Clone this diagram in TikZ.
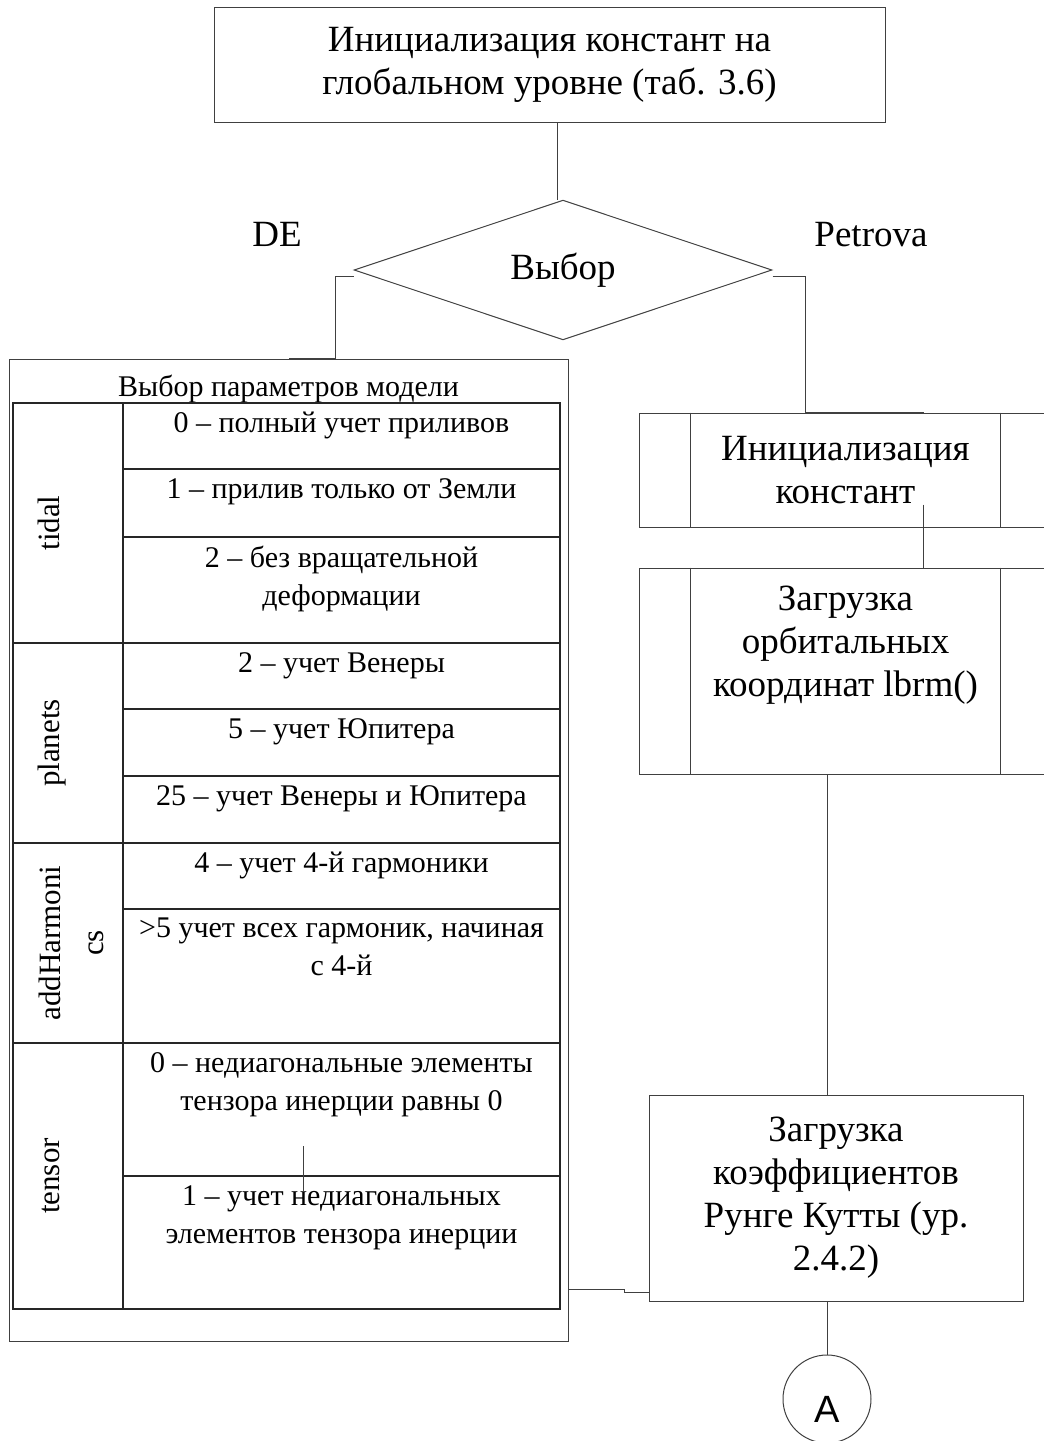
\documentclass[tikz,border=0pt]{standalone}
\usepackage{fontspec}
\setmainfont{Liberation Serif}
\newfontfamily\circfont{Liberation Sans}
\usetikzlibrary{positioning,shapes.geometric}
\tikzset{block/.style={rectangle,draw=black!75,line width=1pt,inner sep=0pt,align=center,font=\fontsize{37}{43}\selectfont},
	 decide/.style={diamond,draw=black!75,line width=1pt,inner sep=0pt,font=\fontsize{37}{43}\selectfont},
	 conn/.style={circle,draw=black!75,line width=1pt,inner sep=0pt,minimum size=88pt,font=\circfont\fontsize{38}{43}\selectfont},
	 bigtxt/.style={inner sep=0pt,align=center,font=\fontsize{37}{43}\selectfont},
	 celltxt/.style={inner sep=0pt,align=center,font=\fontsize{30}{38}\selectfont},
	 grouptxt/.style={inner sep=0pt,align=center,rotate=90,font=\fontsize{31}{43}\selectfont},
	 link/.style={draw=black!75,line width=1pt},
	 grid/.style={draw=black!85,line width=1.2pt}
	 }

\begin{document}
\begin{tikzpicture}[x=1pt,y=-1pt] % flowchart: model choice
	\clip (0,0) rectangle (1044,1441);
	\node[block,minimum width=671pt,minimum height=115pt] (init) at (549.5,64.5) {Инициализация констант на\\глобальном уровне (таб. 3.6)};
	\node[decide,minimum width=418pt,minimum height=136pt] (choice) at (563,270) {Выбор};
	\node[bigtxt,anchor=base] (de) at (277,246) {DE};
	\node[bigtxt,anchor=base] (petrova) at (871,246) {Petrova};
	% left branch: parameters table
	\node[block,minimum width=559pt,minimum height=982pt] (params) at (288.5,850) {};
	\node[celltxt,below=16pt of params.north] (ptitle) {Выбор параметров модели};
	\draw[grid] (13,403) rectangle (560,1309);
	\draw[grid] (123,403) -- (123,1309);
	\foreach \y in {643,843,1043} \draw[grid] (13,\y) -- (560,\y);
	\foreach \y/\t in {403/{0 – полный учет приливов},
	                   469/{1 – прилив только от Земли},
	                   537/{2 – без вращательной\\деформации},
	                   643/{2 – учет Венеры},
	                   709/{5 – учет Юпитера},
	                   776/{25 – учет Венеры и Юпитера},
	                   843/{4 – учет 4-й гармоники},
	                   909/{>5 учет всех гармоник, начиная\\с 4-й},
	                   1043/{0 – недиагональные элементы\\тензора инерции равны 0},
	                   1176/{1 – учет недиагональных\\элементов тензора инерции}} {
		\draw[grid] (123,\y) -- (560,\y);
		\node[celltxt,anchor=north] (cell\y) at (341.5,\y+9) {\t};
	}
	\node[grouptxt,anchor=base] (tidal) at (59,523) {tidal};
	\node[grouptxt,anchor=base] (planets) at (59,743) {planets};
	\node[grouptxt,anchor=north] (harm) at (39,943) {addHarmoni\\cs};
	\node[grouptxt,anchor=base] (tensor) at (59,1176) {tensor};
	% right branch
	\node[block,minimum width=413pt,minimum height=114pt] (const) at (845.5,470) {Инициализация\\констант};
	\node[block,minimum width=413pt,minimum height=206pt] (orb) at (845.5,671) {};
	\node[bigtxt,below=18pt of orb.north] (orbtxt) {Загрузка\\орбитальных\\координат lbrm()};
	\foreach \n in {const,orb} {
		\draw[link] ([xshift=52pt]\n.north west) -- ([xshift=52pt]\n.south west);
		\draw[link] ([xshift=-52pt]\n.north east) -- ([xshift=-52pt]\n.south east);
	}
	\node[block,minimum width=374pt,minimum height=206pt] (rk) at (836,1198) {Загрузка\\коэффициентов\\Рунге Кутты (ур.\\2.4.2)};
	\node[conn,text height=47pt,text depth=0pt,below=53pt of rk.south,xshift=-9pt] (A) {A};
	% connectors
	\draw[link] ([xshift=7.5pt]init.south) -- ([xshift=-6pt]choice.north);
	\draw[link] ([yshift=-6pt]choice.west) -- ++(-18,0) |- (params.north);
	\draw[link] ([yshift=-6pt]choice.east) -- ++(33,0) |- ([xshift=78pt]const.north);
	\draw[link] ([xshift=78pt,yshift=23pt]const.south) -- ([xshift=78pt]orb.north);
	\draw[link] ([xshift=-18.5pt]orb.south) -- ([xshift=-9pt]rk.north);
	\draw[link] ([xshift=-9pt]rk.south) -- (A);
	\draw[link] ([yshift=-94pt]rk.west) -- ++(-24,0) -- ++(0,-3) -- (params.east |- 0,1289);
	\coordinate (s1) at (303,1146);
	\coordinate (s2) at (303,1192);
	\draw[link] (s1) -- (s2);
\end{tikzpicture}
\end{document}
